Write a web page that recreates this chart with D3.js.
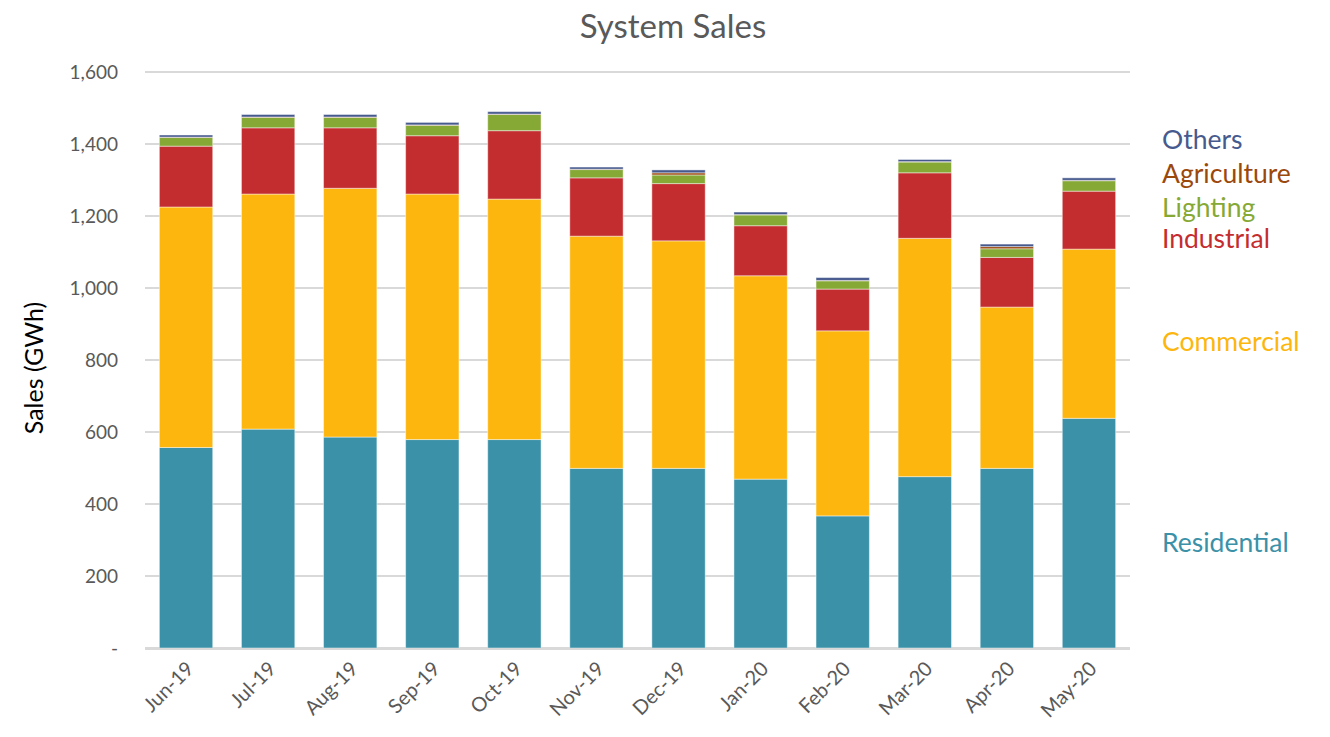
<!DOCTYPE html>
<html>
<head>
<meta charset="utf-8">
<script src="https://cdn.jsdelivr.net/npm/d3@7"></script>
<style>
  body { margin: 0; background: #fff; }
  text { font-family: Lato, "Open Sans", sans-serif; }
  .grid line { stroke: #d9d9d9; stroke-width: 2px; }
  .tick-label { fill: #595959; font-size: 19px; }
  .x-label { fill: #595959; font-size: 20px; }
  .title { fill: #595959; font-size: 33px; }
  .ytitle { fill: #000; font-size: 25px; }
  .legend { font-size: 26.5px; }
</style>
</head>
<body>
<svg id="chart" width="1330" height="737"></svg>
<script>
  // data (GWh)
  const months = ['Jun-19', 'Jul-19', 'Aug-19', 'Sep-19', 'Oct-19', 'Nov-19',
                  'Dec-19', 'Jan-20', 'Feb-20', 'Mar-20', 'Apr-20', 'May-20'];
  const residential = [557, 608, 586, 579, 579, 499, 499, 469, 367, 476, 499, 638];
  const commercial  = [668, 653, 691, 682, 668, 645, 632, 565, 514, 662, 448, 470];
  const industrial  = [169, 184, 168, 162, 190, 162, 159, 139, 116, 182, 138, 161];
  const lighting    = [24, 29, 29, 29, 45, 23, 24, 30, 23, 30, 24, 29];
  const agriculture = [1, 1, 1, 1, 1, 1, 6, 1, 1, 1, 6, 1];
  const others      = [6, 7, 7, 7, 7, 6, 8, 7, 8, 6, 7, 7];
  const yTicks = [0, 200, 400, 600, 800, 1000, 1200, 1400, 1600];

  const seriesNames = ['Residential', 'Commercial', 'Industrial', 'Lighting', 'Agriculture', 'Others'];
  const colors = ['#3a91a8', '#fdb60d', '#c42d2f', '#86a935', '#9b480c', '#475a8e'];
  const values = [residential, commercial, industrial, lighting, agriculture, others];

  const rows = months.map((m, i) => {
    const r = { month: m };
    seriesNames.forEach((s, k) => { r[s] = values[k][i]; });
    return r;
  });

  const svg = d3.select('#chart');
  const plotLeft = 145, plotRight = 1130, plotTop = 72, plotBottom = 648;

  const x = d3.scaleBand().domain(months).range([plotLeft, plotRight])
    .paddingInner(0.35).paddingOuter(0.175);
  const y = d3.scaleLinear().domain([0, 1600]).range([plotBottom, plotTop]);

  // gridlines
  svg.append('g').attr('class', 'grid')
    .selectAll('line').data(yTicks).join('line')
    .attr('x1', plotLeft).attr('x2', plotRight)
    .attr('y1', d => y(d)).attr('y2', d => y(d));

  // y tick labels
  svg.append('g').selectAll('text').data(yTicks).join('text')
    .attr('class', 'tick-label')
    .attr('x', 118).attr('y', d => y(d) + 7)
    .attr('text-anchor', 'end')
    .text(d => d === 0 ? '-' : d3.format(',')(d));

  // stacked bars
  const stack = d3.stack().keys(seriesNames)(rows);
  const color = d3.scaleOrdinal().domain(seriesNames).range(colors);

  svg.append('g').selectAll('g').data(stack).join('g')
    .attr('fill', d => color(d.key))
    .selectAll('rect').data(d => d).join('rect')
    .attr('x', d => x(d.data.month))
    .attr('width', x.bandwidth())
    .attr('y', d => y(d[1]))
    .attr('height', d => y(d[0]) - y(d[1]))
    .attr('stroke', 'rgba(255,255,255,0.45)')
    .attr('stroke-width', 1);

  // x axis line
  svg.append('line')
    .attr('x1', plotLeft).attr('x2', plotRight)
    .attr('y1', plotBottom + 1).attr('y2', plotBottom + 1)
    .attr('stroke', '#d9d9d9').attr('stroke-width', 2);

  // x tick labels, rotated
  svg.append('g').selectAll('text').data(months).join('text')
    .attr('class', 'x-label')
    .attr('text-anchor', 'end')
    .attr('transform', d => `translate(${x(d) + x.bandwidth() / 2 + 9},${plotBottom + 22}) rotate(-45)`)
    .text(d => d);

  // title
  svg.append('text').attr('class', 'title')
    .attr('x', 673).attr('y', 38).attr('text-anchor', 'middle')
    .text('System Sales');

  // y axis title
  svg.append('text').attr('class', 'ytitle')
    .attr('transform', 'translate(43,368) rotate(-90)')
    .attr('text-anchor', 'middle')
    .text('Sales (GWh)');

  // legend labels at the right
  const legendY = { Others: 149, Agriculture: 183, Lighting: 217, Industrial: 248, Commercial: 351, Residential: 552 };
  svg.append('g').selectAll('text').data(seriesNames.slice().reverse()).join('text')
    .attr('class', 'legend')
    .attr('x', 1162).attr('y', d => legendY[d])
    .attr('fill', d => color(d))
    .text(d => d);
</script>
</body>
</html>
